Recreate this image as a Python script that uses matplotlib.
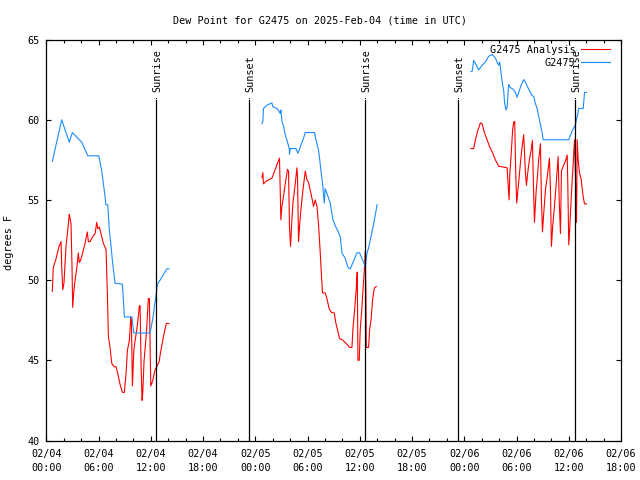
import numpy as np
import matplotlib
matplotlib.use("Agg")
import matplotlib.pyplot as plt
from matplotlib.ticker import MultipleLocator, FixedLocator

# hours since 2025-02-04 00:00 UTC
blue1_h = [0.69, 1.77, 1.95, 2.64, 2.99, 3.79, 4.07, 4.76, 6.02, 6.37, 6.75, 6.83, 7.06, 7.24, 7.40,
           7.63, 7.90, 8.74, 8.97, 9.82, 10.05, 11.92, 12.23, 12.61, 12.76, 13.07, 13.84, 14.10]
blue1_v = [57.4, 60.0, 59.7, 58.6, 59.2, 58.75, 58.6, 57.75, 57.75, 56.8, 55.2, 54.7, 54.7, 53.1, 52.3,
           51.0, 49.8, 49.75, 47.7, 47.7, 46.7, 46.7, 47.6, 49.1, 49.75, 50.0, 50.7, 50.7]
red1_h = [0.69, 0.80, 1.08, 1.46, 1.69, 1.77, 1.89, 2.03, 2.26, 2.46, 2.64, 2.72, 2.84, 2.95, 3.03,
          3.15, 3.26, 3.41, 3.53, 3.68, 3.79, 3.95, 4.18, 4.45, 4.71, 4.83, 5.02, 5.33, 5.60, 5.79,
          5.91, 6.09, 6.37, 6.55, 6.86, 7.01, 7.13, 7.32, 7.52, 7.78, 8.01, 8.28, 8.47, 8.74, 8.97,
          9.16, 9.31, 9.54, 9.70, 9.77, 9.89, 10.05, 10.20, 10.39, 10.54, 10.69, 10.77, 10.89, 11.00,
          11.08, 11.23, 11.43, 11.54, 11.66, 11.72, 11.84, 11.92, 12.00, 12.23, 12.49, 12.69, 12.95,
          13.15, 13.38, 13.61, 13.79, 14.07]
red1_v = [49.3, 50.8, 51.25, 52.1, 52.4, 50.9, 49.4, 49.8, 52.1, 53.1, 54.1, 53.85, 53.5, 50.9, 48.3,
          49.2, 49.8, 50.4, 50.9, 51.7, 51.1, 51.25, 51.7, 52.3, 53.0, 52.4, 52.4, 52.7, 52.9, 53.6,
          53.2, 53.3, 52.7, 52.3, 51.9, 49.2, 46.5, 45.8, 44.8, 44.6, 44.6, 44.0, 43.5, 43.0, 43.0,
          44.2, 45.6, 46.25, 47.7, 47.6, 43.4, 45.6, 46.25, 46.9, 47.6, 48.4, 48.4, 44.6, 42.5,
          43.0, 45.0, 46.25, 47.1, 48.3, 48.85, 48.85, 45.9, 43.4, 43.75, 44.4, 44.6, 44.9,
          45.6, 46.25, 46.9, 47.3, 47.3]

blue2_h = [24.76, 24.87, 24.94, 25.33, 25.71, 25.91, 26.02, 26.48, 26.78, 26.86, 26.94, 27.06, 27.24,
           27.44, 27.70, 27.90, 27.93, 28.01, 28.67, 28.90, 29.16, 29.54, 29.74, 30.80, 30.97, 31.26,
           31.38, 31.57, 31.77, 31.92, 32.03, 32.23, 32.61, 32.92, 33.18, 33.45, 33.76, 33.95, 34.33,
           34.64, 34.91, 35.29, 35.68, 35.98, 36.32, 36.52, 36.63, 36.83, 37.01, 37.29, 37.59, 37.86,
           37.98]
blue2_v = [59.75, 59.9, 60.7, 60.9, 61.0, 61.04, 60.8, 60.7, 60.5, 60.4, 60.6, 59.9, 59.6,
           59.06, 58.6, 58.2, 57.85, 58.2, 58.2, 57.9, 58.3, 58.85, 59.2, 59.2, 58.75, 58.1,
           57.6, 56.7, 55.8, 54.8, 55.7, 55.4, 54.8, 53.75, 53.4, 53.1, 52.7, 51.7, 51.35,
           50.8, 50.7, 51.2, 51.7, 51.7, 51.25, 51.0, 50.8, 51.7, 52.0, 52.7, 53.5, 54.3,
           54.7]
red2_h = [24.76, 24.87, 24.94, 25.33, 25.91, 26.29, 26.55, 26.78, 26.86, 26.94, 27.06, 27.24, 27.44,
          27.70, 27.82, 27.93, 28.05, 28.16, 28.32, 28.59, 28.78, 28.85, 28.97, 29.08, 29.24, 29.47,
          29.74, 29.93, 30.11, 30.31, 30.51, 30.69, 30.89, 31.08, 31.26, 31.46, 31.57, 31.72, 32.03,
          32.23, 32.49, 32.72, 33.07, 33.26, 33.45, 33.68, 34.07, 34.53, 34.83, 35.10, 35.22, 35.40,
          35.60, 35.71, 35.79, 35.94, 36.05, 36.21, 36.37, 36.52, 36.63, 36.71, 36.75, 37.01, 37.13,
          37.29, 37.47, 37.67, 37.90]
red2_v = [56.4, 56.7, 56.0, 56.2, 56.35, 56.9, 57.3, 57.6, 55.7, 53.75, 54.6, 55.2, 56.0,
          56.9, 56.8, 53.3, 52.1, 53.3, 54.8, 56.0, 57.0, 56.4, 52.4, 53.3, 54.4, 55.6,
          56.8, 56.25, 56.1, 55.6, 55.1, 54.6, 55.0, 54.6, 53.5, 51.7, 50.6, 49.2, 49.2,
          48.85, 48.2, 48.0, 47.95, 47.3, 46.9, 46.35, 46.25, 46.0, 45.8, 45.8, 47.0, 48.1,
          49.5, 50.5, 45.0, 45.0, 46.9, 48.0, 49.4, 50.6, 51.8, 48.75, 45.8, 45.8, 46.9,
          47.5, 48.75, 49.5, 49.6]

blue3_h = [48.78, 48.90, 49.08, 49.39, 49.66, 50.05, 50.43, 50.80, 51.20, 51.57, 51.84, 51.95, 52.07,
           52.23, 52.34, 52.53, 52.64, 52.80, 52.92, 53.10, 53.30, 53.61, 53.87, 54.07, 54.25, 54.56,
           54.83, 55.02, 55.22, 55.60, 55.79, 55.98, 56.17, 56.37, 56.55, 56.75, 56.94, 57.06, 60.00,
           60.39, 60.77, 60.97, 61.15, 61.66, 61.81, 62.04]
blue3_v = [63.0, 63.0, 63.7, 63.4, 63.1, 63.4, 63.6, 63.95, 64.06, 63.85, 63.5, 63.4, 63.6,
           62.9, 62.4, 61.8, 61.0, 60.6, 60.8, 62.2, 62.0, 61.9, 61.7, 61.4, 61.7, 62.2,
           62.5, 62.35, 62.1, 61.7, 61.5, 61.45, 61.0, 60.7, 60.2, 59.7, 59.2, 58.75, 58.75,
           59.3, 59.7, 60.2, 60.7, 60.7, 61.7, 61.7]
red3_h = [48.78, 49.08, 49.28, 49.54, 49.85, 50.05, 50.31, 50.62, 50.92, 51.20, 51.57, 51.95, 52.92,
          53.03, 53.15, 53.22, 53.38, 53.56, 53.68, 53.79, 53.91, 54.02, 54.25, 54.45, 54.64, 54.83,
          55.02, 55.14, 55.29, 55.48, 55.68, 55.83, 55.94, 56.06, 56.25, 56.37, 56.55, 56.75, 56.86,
          56.98, 57.13, 57.32, 57.59, 57.78, 57.90, 58.01, 58.16, 58.36, 58.59, 58.78, 58.90, 59.05,
          59.16, 59.36, 59.62, 59.82, 59.89, 60.00, 60.11, 60.31, 60.51, 60.66, 60.77, 60.89, 60.97,
          61.08, 61.23, 61.42, 61.66, 61.81, 62.04]
red3_v = [58.2, 58.2, 58.75, 59.3, 59.8, 59.75, 59.2, 58.75, 58.3, 58.0, 57.5, 57.1, 57.0,
          56.0, 55.0, 56.5, 57.8, 59.4, 59.85, 59.9, 56.7, 54.8, 56.1, 57.3, 58.3, 59.06,
          56.7, 55.9, 56.7, 57.5, 58.1, 58.7, 56.0, 53.6, 55.5, 56.25, 57.5, 58.5, 55.0,
          53.0, 54.2, 55.6, 56.7, 57.6, 55.6, 52.1, 53.4, 54.6, 56.25, 57.7, 55.0, 52.9,
          56.8, 57.1, 57.4, 57.8, 56.0, 52.2, 53.2, 55.4, 57.3, 58.75, 56.45, 53.6, 58.75,
          57.5, 56.7, 56.3, 55.2, 54.75, 54.75]

sun_events_h = [12.63, 23.25, 36.63, 47.26, 60.70]
sun_events_lbl = ["Sunrise", "Sunset", "Sunrise", "Sunset", "Sunrise"]

xtick_h = [0, 6, 12, 18, 24, 30, 36, 42, 48, 54, 60, 66]
xtick_lbl = ["02/04\n00:00", "02/04\n06:00", "02/04\n12:00", "02/04\n18:00",
             "02/05\n00:00", "02/05\n06:00", "02/05\n12:00", "02/05\n18:00",
             "02/06\n00:00", "02/06\n06:00", "02/06\n12:00", "02/06\n18:00"]
ytick_v = [40, 45, 50, 55, 60, 65]

RED = "#ff0000"
BLUE = "#1a8cff"
FONT = "DejaVu Sans Mono"
FS = 7.3

plt.rcParams['font.family'] = FONT
fig = plt.figure(figsize=(6.4, 4.8), dpi=100)
ax = fig.add_axes([46.3 / 640, 1 - 440.5 / 480, (621 - 46.3) / 640, 401 / 480])

lw = 0.8
for i, (h, v) in enumerate([(red1_h, red1_v), (red2_h, red2_v), (red3_h, red3_v)]):
    ax.plot(h, v, color=RED, lw=lw, label="G2475 Analysis" if i == 0 else None)
for i, (h, v) in enumerate([(blue1_h, blue1_v), (blue2_h, blue2_v), (blue3_h, blue3_v)]):
    ax.plot(h, v, color=BLUE, lw=lw, label="G2475" if i == 0 else None)

ax.set_xlim(0, 66)
ax.set_ylim(40, 65)

trans = ax.get_xaxis_transform()
for h, lbl in zip(sun_events_h, sun_events_lbl):
    ax.plot([h, h], [0, 0.85], color="black", lw=0.9, transform=trans)
    ax.plot([h], [0.855], marker='o', ms=0.7, mew=0, color="black", transform=trans)
    ax.text(h + 0.17, 0.868, lbl, rotation=90, ha="center", va="bottom",
            fontsize=FS, transform=trans, family=FONT)

ax.xaxis.set_major_locator(FixedLocator(xtick_h))
ax.set_xticklabels(xtick_lbl, fontsize=FS, linespacing=1.55)
ax.xaxis.set_minor_locator(MultipleLocator(2))
ax.set_yticks(ytick_v)
ax.set_yticklabels([str(v) for v in ytick_v], fontsize=FS)
ax.tick_params(which="major", direction="in", length=3.3, width=0.8,
               top=True, right=True, pad=5)
ax.tick_params(which="minor", direction="in", length=2.2, width=0.8,
               top=True, right=True)
ax.tick_params(axis="x", which="major", pad=6)
for s in ax.spines.values():
    s.set_linewidth(0.9)

ax.set_ylabel("degrees F", fontsize=FS)
ax.yaxis.set_label_coords((14.5 - 46.3) / 574.7, 0.495)
fig.text(0.5, 1 - 20.5 / 480, "Dew Point for G2475 on 2025-Feb-04 (time in UTC)",
         ha="center", va="center", fontsize=FS)

leg = ax.legend(loc="upper right", fontsize=FS, frameon=False, markerfirst=False,
                handlelength=2.9, handletextpad=0.5, labelspacing=0.25,
                borderaxespad=0.0, borderpad=0.0,
                bbox_to_anchor=(1 - 11 / 574.7, 1 - 5.5 / 401))
for t in leg.get_texts():
    t.set_ha("right")

fig.savefig("out.png", dpi=100)
